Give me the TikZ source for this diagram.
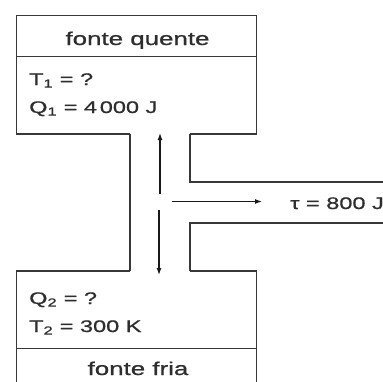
\documentclass[tikz,border=0pt]{standalone}
\usepackage{fontspec}
\setmainfont[FakeStretch=1.4,FakeBold=0.9]{Liberation Sans}
\usetikzlibrary{arrows.meta}
\begin{document}
\begin{tikzpicture}[x=1pt,y=-1pt,
  wall/.style={line width=1.4pt,draw=black!78},
  flow/.style={line width=1.2pt,draw=black!90,-{Latex[length=7pt,width=5pt]}},
  lbl/.style={inner sep=0pt,anchor=base west,font=\fontsize{16.8}{18}\selectfont,text=black!82},
  title/.style={inner sep=0pt,anchor=base,font=\fontsize{18.5}{20}\selectfont,text=black!82}]
\useasboundingbox (0,0) rectangle (383,381);
\clip (0,0) rectangle (383,381);
% top reservoir
\draw[wall] (130,134) -- (16.5,134) -- (16.5,15.5) -- (256.5,15.5) -- (256.5,134) -- (190,134);
\draw[wall] (16.5,56.5) -- (256.5,56.5);
% neck and work channel
\draw[wall] (130,134) -- (130,271);
\draw[wall] (190,134) -- (190,182) -- (390,182);
\draw[wall] (390,223) -- (190,223) -- (190,271);
% bottom reservoir
\draw[wall] (130,271) -- (16.5,271) -- (16.5,390);
\draw[wall] (190,271) -- (256.5,271) -- (256.5,390);
\draw[wall] (16.5,348.5) -- (256.5,348.5);
% texts
\node[title] (hot) at (137.5,45) {fonte quente};
\node[lbl] (t1) at (29,85) {T\textsubscript{1} = ?};
\node[lbl] (q1) at (29,113) {Q\textsubscript{1} = 4\,000 J};
\node[lbl] (q2) at (29,304) {Q\textsubscript{2} = ?};
\node[lbl] (t2) at (29,332) {T\textsubscript{2} = 300 K};
\node[title] (cold) at (138,375) {fonte fria};
\node[lbl] (work) at (290,209) {τ = 800 J};
% arrows
\coordinate (ua) at (160,194);
\coordinate (ub) at (160,133);
\coordinate (da) at (159,210);
\coordinate (db) at (159,275);
\coordinate (wa) at (171.5,201.5);
\coordinate (wb) at (262,201.5);
\draw[flow] (ua) -- (ub);
\draw[flow] (da) -- (db);
\draw[flow] (wa) -- (wb);
\end{tikzpicture}
\end{document}
